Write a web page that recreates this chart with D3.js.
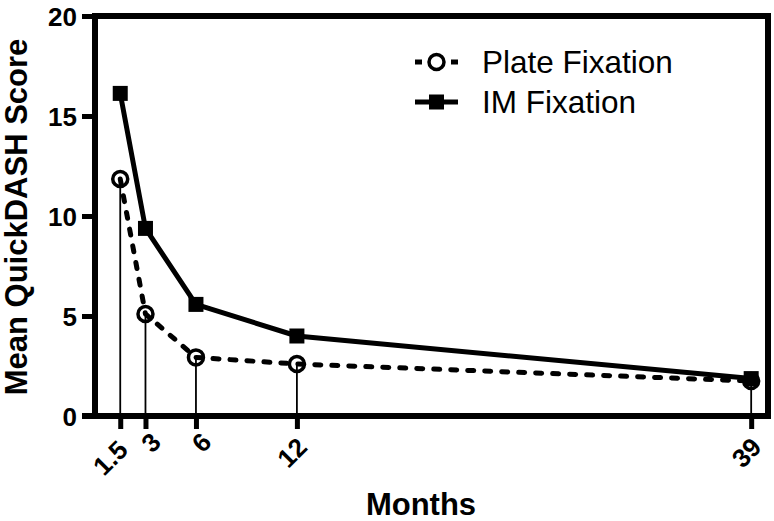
<!DOCTYPE html>
<html>
<head>
<meta charset="utf-8">
<script src="https://cdn.jsdelivr.net/npm/d3@7"></script>
<style>
  body { margin: 0; background: #fff; }
  svg { display: block; }
  text { font-family: "Liberation Sans", Arial, sans-serif; fill: #000; }
</style>
</head>
<body>
<div id="chart"></div>
<script>
var svgWidth = 774;
var svgHeight = 521;

// data
var months = [1.5, 3, 6, 12, 39];
var plateScores = [11.85, 5.1, 2.93, 2.6, 1.75];
var imScores = [16.13, 9.38, 5.58, 4.0, 1.87];
var yTicks = [0, 5, 10, 15, 20];
var seriesNames = ["Plate Fixation", "IM Fixation"];

var plateData = months.map((m, i) => ({ x: m, y: plateScores[i] }));
var imData = months.map((m, i) => ({ x: m, y: imScores[i] }));

var svg = d3.select("#chart")
    .append("svg")
    .attr("width", svgWidth)
    .attr("height", svgHeight);

var xScale = d3.scaleLinear().domain([0, 40]).range([95, 768]);
var yScale = d3.scaleLinear().domain([0, 20]).range([416, 16]);

// frame: top and right border
svg.append("path")
    .attr("d", `M${xScale(0)},${yScale(20)} H${xScale(40)} V${yScale(0)}`)
    .attr("fill", "none")
    .attr("stroke", "#000")
    .attr("stroke-width", 6);

// y axis
var yAxis = svg.append("g")
    .attr("transform", `translate(${xScale(0)},0)`)
    .call(d3.axisLeft(yScale).tickValues(yTicks).tickSize(13).tickPadding(5).tickFormat(d3.format("d")));
yAxis.select(".domain").attr("stroke-width", 6).attr("d", `M0,${yScale(0) + 3}V${yScale(20) - 3}`);
yAxis.selectAll(".tick line").attr("stroke-width", 5);
yAxis.selectAll(".tick text")
    .attr("font-size", 26)
    .attr("font-weight", "bold")
    .attr("font-family", "Liberation Sans, Arial, sans-serif")
    .attr("dy", "0.36em");

// x axis
var xAxis = svg.append("g")
    .attr("transform", `translate(0,${yScale(0)})`)
    .call(d3.axisBottom(xScale).tickValues(months).tickSize(13).tickFormat(d => d));
xAxis.select(".domain").attr("stroke-width", 6).attr("d", `M${xScale(0) - 13},0H${xScale(40) + 3}`);
xAxis.selectAll(".tick line").attr("stroke-width", 5);
// rotated labels: longer labels sit further down-left, as in the original
xAxis.selectAll(".tick text")
    .attr("font-size", 26)
    .attr("font-weight", "bold")
    .attr("font-family", "Liberation Sans, Arial, sans-serif")
    .attr("text-anchor", "middle")
    .attr("y", 0)
    .attr("dy", "0.36em")
    .attr("transform", "translate(15,16) rotate(-45)")
    .each(function() {
        var len = this.getComputedTextLength();
        d3.select(this).attr("x", -len);
    });

// stems from plate points down to the axis
svg.append("g")
    .selectAll("line")
    .data(plateData)
    .enter()
    .append("line")
    .attr("x1", d => xScale(d.x))
    .attr("x2", d => xScale(d.x))
    .attr("y1", d => yScale(d.y))
    .attr("y2", yScale(0))
    .attr("stroke", "#000")
    .attr("stroke-width", 1.8);

var line = d3.line().x(d => xScale(d.x)).y(d => yScale(d.y));

// IM line
svg.append("path")
    .datum(imData)
    .attr("d", line)
    .attr("fill", "none")
    .attr("stroke", "#000")
    .attr("stroke-width", 5)
    .attr("stroke-linejoin", "round");

// Plate line dashed
svg.append("path")
    .datum(plateData)
    .attr("d", line)
    .attr("fill", "none")
    .attr("stroke", "#000")
    .attr("stroke-width", 5)
    .attr("stroke-linecap", "round")
    .attr("stroke-dasharray", "6,11");

// IM squares
svg.append("g")
    .selectAll("rect")
    .data(imData)
    .enter()
    .append("rect")
    .attr("x", d => xScale(d.x) - 7.5)
    .attr("y", d => yScale(d.y) - 7.5)
    .attr("width", 15)
    .attr("height", 15)
    .attr("fill", "#000");

// Plate circles
svg.append("g")
    .selectAll("circle")
    .data(plateData)
    .enter()
    .append("circle")
    .attr("cx", d => xScale(d.x))
    .attr("cy", d => yScale(d.y))
    .attr("r", 7.5)
    .attr("fill", "none")
    .attr("stroke", "#000")
    .attr("stroke-width", 3.5);

// axis titles
svg.append("text")
    .attr("transform", "translate(27,217) rotate(-90)")
    .attr("text-anchor", "middle")
    .attr("font-size", 31)
    .attr("font-weight", "bold")
    .text("Mean QuickDASH Score");

svg.append("text")
    .attr("x", 421)
    .attr("y", 515)
    .attr("text-anchor", "middle")
    .attr("font-size", 31)
    .attr("font-weight", "bold")
    .text("Months");

// legend
var legend = svg.append("g").attr("transform", "translate(415,0)");

var plateLegend = legend.append("g").attr("transform", "translate(0,62)");
plateLegend.append("line")
    .attr("x1", 0).attr("x2", 43)
    .attr("stroke", "#000").attr("stroke-width", 5)
    .attr("stroke-dasharray", "7,29");
plateLegend.append("circle")
    .attr("cx", 21.5).attr("r", 7.5)
    .attr("fill", "none").attr("stroke", "#000").attr("stroke-width", 3.5);
plateLegend.append("text")
    .attr("x", 67).attr("y", 11)
    .attr("font-size", 31.5)
    .text(seriesNames[0]);

var imLegend = legend.append("g").attr("transform", "translate(0,102)");
imLegend.append("line")
    .attr("x1", 0).attr("x2", 43)
    .attr("stroke", "#000").attr("stroke-width", 5);
imLegend.append("rect")
    .attr("x", 14).attr("y", -7.5).attr("width", 15).attr("height", 15)
    .attr("fill", "#000");
imLegend.append("text")
    .attr("x", 67).attr("y", 11)
    .attr("font-size", 31.5)
    .text(seriesNames[1]);
</script>
</body>
</html>
